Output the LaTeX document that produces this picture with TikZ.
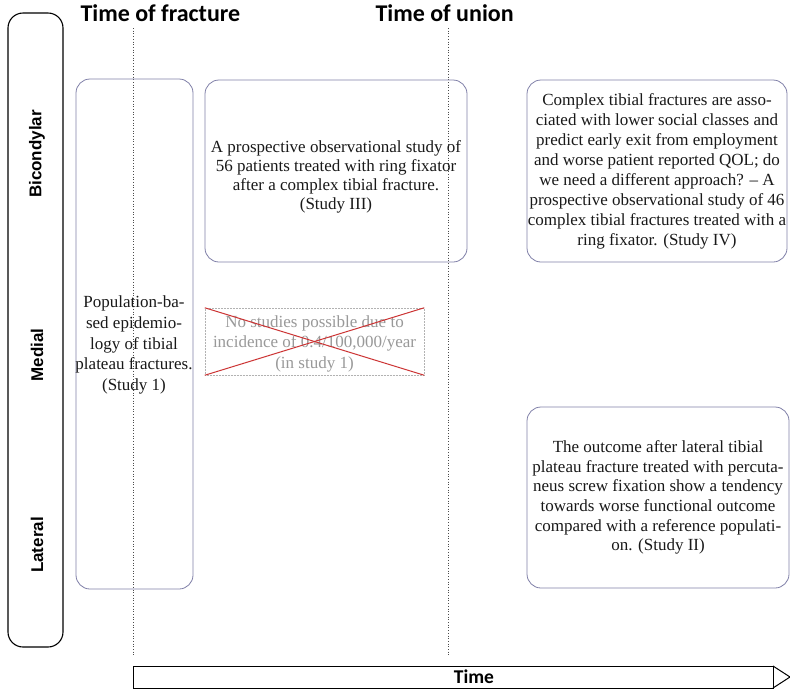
\documentclass[tikz,border=0pt]{standalone}
\usepackage{fontspec}
\setmainfont{Liberation Serif}
\newfontfamily\hdfont{Carlito}
\newfontfamily\lblfont{Liberation Sans}
\begin{document}
\begin{tikzpicture}[x=1pt,y=-1pt,
  sbox/.style={draw=boxcol, line width=0.8pt, rounded corners=14pt, inner sep=0pt},
  stext/.style={align=center, font=\fontsize{17}{19.6}\selectfont, text=black!90},
  hd/.style={font=\hdfont\bfseries\fontsize{24}{26}\selectfont, anchor=west},
  rowlbl/.style={font=\lblfont\bfseries\fontsize{17}{18}\selectfont, rotate=90},
  tline/.style={dotted, line width=0.7pt, black!70}]
\definecolor{boxcol}{RGB}{128,128,168}
\useasboundingbox (0,0) rectangle (790,689);
\fill[white] (0,0) rectangle (790,689);
% left row box
\node[draw=black, line width=1.1pt, rounded corners=15pt, minimum width=55pt, minimum height=634pt, inner sep=0pt] (rows) at (35.5,330) {};
\node[rowlbl] (bic) at (37,154) {Bicondylar};
\node[rowlbl] (med) at (37,355) {Medial};
\node[rowlbl] (lat) at (37,545) {Lateral};
% headers
\node[hd] (hfrac) at (77,13) {Time of fracture};
\node[hd] (hunion) at (372,13) {Time of union};
% dotted time lines
\coordinate (f1) at (133,28); \coordinate (f2) at (133,655);
\coordinate (u1) at (448,28); \coordinate (u2) at (448,655);
\draw[tline] (f1) -- (f2);
\draw[tline] (u1) -- (u2);
% boxes
\node[sbox, minimum width=117pt, minimum height=510pt] (epi) at (134.5,334) {};
\node[stext, font=\fontsize{17}{20.8}\selectfont] (epitxt) at (134,345) {Population-ba-\\sed epidemio-\\logy of tibial\\plateau fractures.\\(Study 1)};
\node[sbox, minimum width=262pt, minimum height=182pt] (s3) at (336,171) {};
\node[stext, font=\fontsize{17}{19.2}\selectfont] (s3txt) at (336,177) {A prospective observational study of\\56 patients treated with ring fixator\\after a complex tibial fracture.\\(Study III)};
\node[sbox, minimum width=260pt, minimum height=182pt, stext, font=\fontsize{17}{20}\selectfont] (s4) at (657,171) {Complex tibial fractures are asso-\\ciated with lower social classes and\\predict early exit from employment\\and worse patient reported QOL; do\\we need a different approach? -- A\\prospective observational study of 46\\complex tibial fractures treated with a\\ring fixator. (Study IV)};
\node[sbox, minimum width=262pt, minimum height=181pt, stext] (s2) at (658,497.5) {The outcome after lateral tibial\\plateau fracture treated with percuta-\\neus screw fixation show a tendency\\towards worse functional outcome\\compared with a reference populati-\\on. (Study II)};
% crossed box
\node[draw=black!30, densely dotted, line width=0.5pt, minimum width=219pt, minimum height=67pt, inner sep=0pt] (none) at (314.5,341.5) {};
\node[stext, font=\fontsize{17}{20.5}\selectfont, text=black!40] (nonetxt) at (314.5,343.5) {No studies possible due to\\incidence of 0.4/100,000/year\\(in study 1)};
\draw[red!75!black!80, line width=1pt] (none.north west) -- (none.south east);
\draw[red!75!black!80, line width=1pt] (none.north east) -- (none.south west);
% time arrow
\draw[line width=1pt] (133,666) rectangle (773,688);
\draw[line width=1pt] (773,666) -- (790,677) -- (773,688);
\node[font=\hdfont\bfseries\fontsize{19.5}{22}\selectfont] (time) at (474,677) {Time};
\end{tikzpicture}
\end{document}
